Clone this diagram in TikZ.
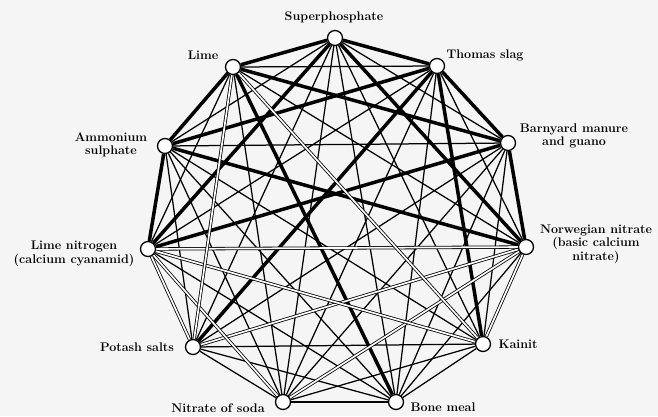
\documentclass[tikz,border=0pt]{standalone}
\usetikzlibrary{backgrounds}
\usepackage{xcolor}

\tikzset{
  fert/.style={circle, draw, fill=white, line width=1.3pt, minimum size=15pt, inner sep=0pt},
  fname/.style={font=\fontsize{12.5}{13.5}\selectfont\bfseries, align=center, inner sep=0pt},
  ok/.style={line width=1.25pt},
  never/.style={line width=3.5pt},
  late/.style={double=white, double distance=1.7pt, line width=0.8pt},
}

\begin{document}
\begin{tikzpicture}[x=1pt, y=-1pt]
  \useasboundingbox (0,0) rectangle (658,416);

  % the eleven fertilizers round the ring
  \node[fert] (sup)  at (335,38)  {};
  \node[fert] (tho)  at (437,66)  {};
  \node[fert] (barn) at (508,143) {};
  \node[fert] (norw) at (526,247) {};
  \node[fert] (kain) at (483,344) {};
  \node[fert] (bone) at (396,402) {};
  \node[fert] (soda) at (283,402) {};
  \node[fert] (pot)  at (193,347) {};
  \node[fert] (limn) at (148,249) {};
  \node[fert] (amm)  at (165,146) {};
  \node[fert] (lime) at (233,67)  {};

  % names
  \node[fname] (supT)  at (334,17)  {Superphosphate};
  \node[fname] (thoT)  at (485,55)  {Thomas slag};
  \node[fname] (barnT) at (574,136) {Barnyard manure\\and guano};
  \node[fname] (norwT) at (596,244) {Norwegian nitrate\\(basic calcium\\nitrate)};
  \node[fname] (kainT) at (518,344) {Kainit};
  \node[fname] (boneT) at (443,407) {Bone meal};
  \node[fname] (sodaT) at (218,408) {Nitrate of soda};
  \node[fname] (potT)  at (137,347) {Potash salts};
  \node[fname] (limnT) at (74,254)  {Lime nitrogen\\(calcium cyanamid)};
  \node[fname] (ammT)  at (111,145) {Ammonium\\sulphate};
  \node[fname] (limeT) at (203,55)  {Lime};

  \begin{scope}[on background layer]
    \fill[black!4] (0,0) rectangle (658,416);
    % may be mixed at any time
    \foreach \a/\b in {sup/barn, sup/kain, sup/bone, sup/soda, sup/pot, sup/amm,
        tho/norw, tho/bone, tho/soda, tho/limn, tho/lime,
        barn/kain, barn/bone, barn/soda, barn/pot, barn/amm,
        norw/bone, norw/lime, kain/bone, kain/soda, kain/pot, kain/amm,
        bone/soda, bone/pot, bone/limn, bone/amm,
        soda/pot, soda/amm, soda/lime, pot/amm, limn/lime}
      \draw[ok] (\a) -- (\b);
    % never to be mixed
    \foreach \a/\b in {sup/tho, sup/norw, sup/limn, sup/lime,
        tho/barn, tho/kain, tho/pot, tho/amm,
        barn/norw, barn/limn, barn/lime, norw/amm,
        bone/lime, limn/amm, amm/lime}
      \draw[never] (\a) -- (\b);
    % only just before use
    \foreach \a/\b in {norw/kain, norw/soda, norw/pot, norw/limn,
        kain/limn, kain/lime, soda/limn, pot/limn, pot/lime}
      \draw[late] (\a) -- (\b);
  \end{scope}
\end{tikzpicture}
\end{document}
